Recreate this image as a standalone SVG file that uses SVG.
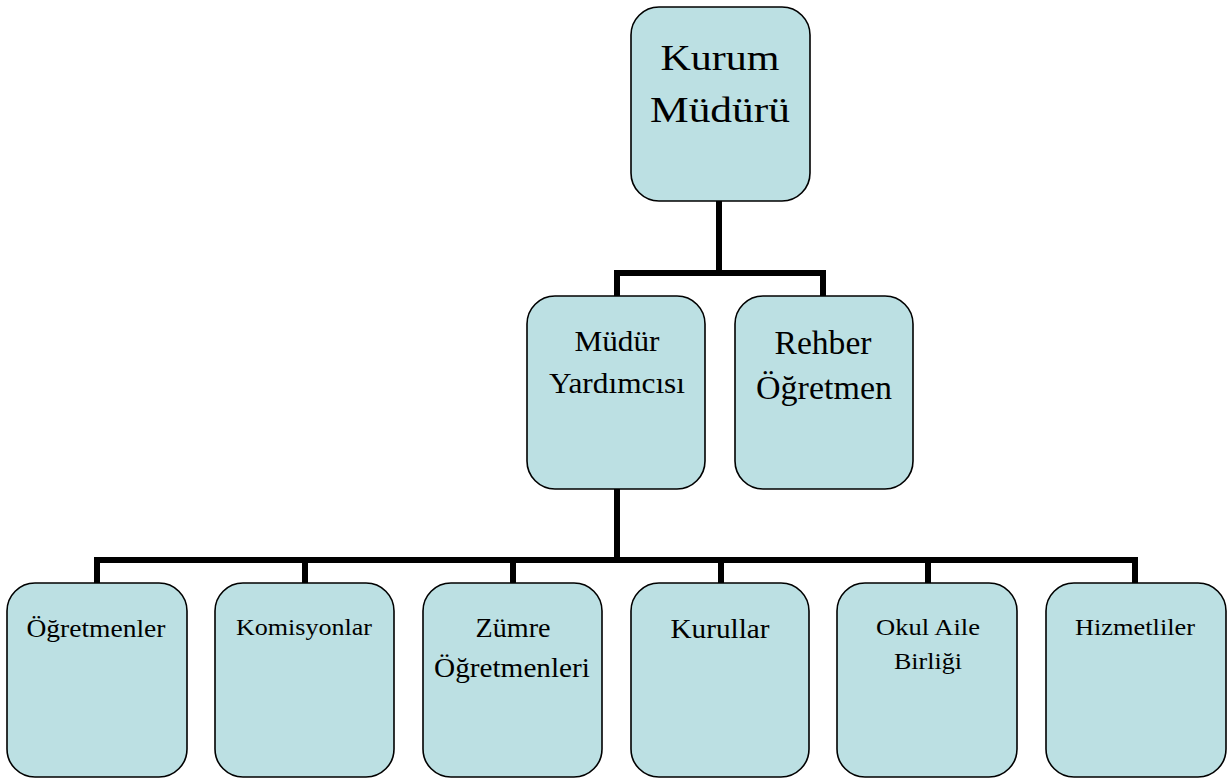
<svg xmlns="http://www.w3.org/2000/svg" width="1229" height="778" viewBox="0 0 1229 778">
<style>
.box{fill:#bce0e3;stroke:#000;stroke-width:1.6}
.conn{fill:none;stroke:#000;stroke-width:6;stroke-linecap:butt;stroke-linejoin:miter}
text{font-family:"Liberation Serif","Times New Roman",serif;fill:#000;text-anchor:middle}
.top{font-size:36px}
</style>
<rect width="1229" height="778" fill="#fff"/>
<g id="connectors">
<path class="conn" d="M719 201V273M617 296V273H823V296"/>
<path class="conn" d="M617 489V560M97 583V560H1135V583M305 560V583M513 560V583M721 560V583M928 560V583"/>
</g>
<g id="kurum-muduru">
<rect class="box" x="631" y="7" width="179" height="194" rx="28"/>
<text class="top" x="720" y="70" textLength="119" lengthAdjust="spacingAndGlyphs">Kurum</text>
<text class="top" x="720" y="122" textLength="140" lengthAdjust="spacingAndGlyphs">Müdürü</text>
</g>
<g id="mudur-yardimcisi">
<rect class="box" x="527" y="296" width="178" height="193" rx="28"/>
<text x="617" y="351" font-size="30" textLength="85" lengthAdjust="spacingAndGlyphs">Müdür</text>
<text x="617" y="393" font-size="30" textLength="136" lengthAdjust="spacingAndGlyphs">Yardımcısı</text>
</g>
<g id="rehber-ogretmen">
<rect class="box" x="735" y="296" width="178" height="193" rx="28"/>
<text x="823" y="354" font-size="33" textLength="97" lengthAdjust="spacingAndGlyphs">Rehber</text>
<text x="824" y="399" font-size="33" textLength="136" lengthAdjust="spacingAndGlyphs">Öğretmen</text>
</g>
<g id="ogretmenler">
<rect class="box" x="7" y="583" width="180" height="194" rx="28"/>
<text x="96" y="637" font-size="25" textLength="139" lengthAdjust="spacingAndGlyphs">Öğretmenler</text>
</g>
<g id="komisyonlar">
<rect class="box" x="215" y="583" width="179" height="194" rx="28"/>
<text x="304" y="635" font-size="24" textLength="136" lengthAdjust="spacingAndGlyphs">Komisyonlar</text>
</g>
<g id="zumre-ogretmenleri">
<rect class="box" x="423" y="583" width="179" height="194" rx="28"/>
<text x="513" y="637" font-size="27" textLength="75" lengthAdjust="spacingAndGlyphs">Zümre</text>
<text x="512" y="677" font-size="27" textLength="156" lengthAdjust="spacingAndGlyphs">Öğretmenleri</text>
</g>
<g id="kurullar">
<rect class="box" x="631" y="583" width="178" height="194" rx="28"/>
<text x="720" y="638" font-size="27" textLength="99" lengthAdjust="spacingAndGlyphs">Kurullar</text>
</g>
<g id="okul-aile-birligi">
<rect class="box" x="837" y="583" width="180" height="194" rx="28"/>
<text x="928" y="635" font-size="23" textLength="104" lengthAdjust="spacingAndGlyphs">Okul Aile</text>
<text x="928" y="669" font-size="23" textLength="68" lengthAdjust="spacingAndGlyphs">Birliği</text>
</g>
<g id="hizmetliler">
<rect class="box" x="1046" y="583" width="180" height="194" rx="28"/>
<text x="1135" y="635" font-size="24" textLength="120" lengthAdjust="spacingAndGlyphs">Hizmetliler</text>
</g>
</svg>
